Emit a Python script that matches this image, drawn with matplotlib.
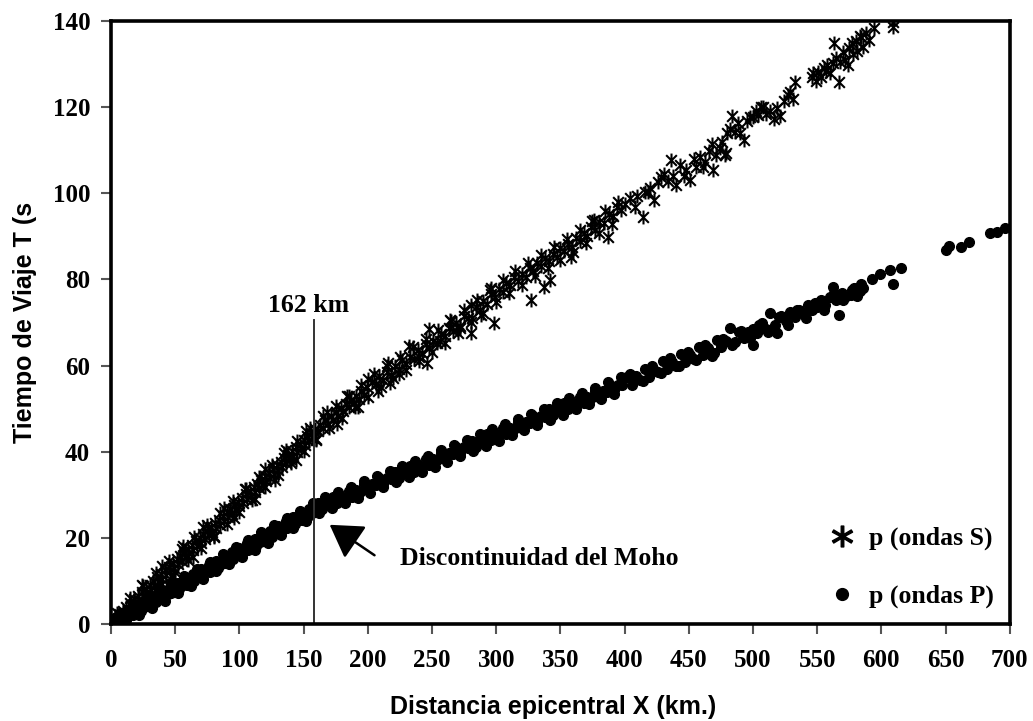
import matplotlib
matplotlib.use("Agg")
import matplotlib.pyplot as plt
from matplotlib.path import Path
from matplotlib.lines import Line2D

# ----------------------------
# Datos: ondas S (asteriscos)
# ----------------------------
s_dist = [3, 4, 6, 7, 9, 10, 12, 13, 15, 16, 18, 19, 21, 22, 24, 25, 27, 28, 30, 31,
          33, 34, 36, 37, 39, 40, 42, 43, 45, 46, 48, 49, 51, 52, 54, 55, 57, 58, 60, 61,
          63, 64, 66, 67, 69, 70, 72, 73, 75, 76, 78, 79, 81, 82, 84, 85, 87, 88, 90, 91,
          93, 94, 96, 97, 99, 100, 102, 103, 105, 106, 108, 109, 111, 112, 114, 115, 117, 118, 120, 121,
          123, 124, 126, 127, 129, 130, 132, 133, 135, 136, 138, 139, 141, 142, 144, 145, 147, 148, 150, 151,
          153, 154, 156, 157, 159, 161, 163, 165, 167, 169, 171, 173, 175, 177, 179, 181, 183, 185, 187, 189,
          191, 193, 195, 197, 199, 203, 206, 209, 212, 215, 218, 221, 224, 227, 230, 233, 236, 239, 242, 245,
          248, 251, 254, 257, 260, 263, 266, 269, 272, 275, 278, 281, 284, 287, 290, 293, 296, 299, 302, 305,
          308, 311, 314, 317, 320, 323, 326, 329, 332, 335, 338, 341, 344, 347, 350, 353, 356, 359, 362, 365,
          368, 371, 374, 377, 380, 384, 388, 391, 394, 397, 217, 246, 280, 298, 327, 337, 342, 358, 387, 376,
          5, 10, 15, 20, 25, 30, 35, 40, 45, 50, 55, 60, 65, 70, 75, 80, 85, 90, 95, 100,
          105, 110, 115, 120, 125, 130, 135, 140, 145, 150, 155, 160, 165, 170, 175, 180, 185, 190, 195, 200,
          205, 210, 215, 220, 225, 230, 235, 240, 245, 250, 255, 260, 265, 270, 275, 280, 285, 290, 295, 300,
          305, 310, 315, 320, 325, 330, 335, 340, 345, 350, 355, 360, 365, 370, 375, 380, 385, 390, 395,
          24, 32, 40, 48, 56, 64, 72, 80, 88, 96, 104, 112, 120, 128, 136, 144, 152, 160, 168, 176,
          184, 192, 200, 208, 216, 224, 232, 240, 248, 256, 264, 272, 280, 288, 296,
          400, 404, 408, 410, 414, 416, 418, 420, 423, 426, 428, 431, 434, 436, 438, 440, 443, 446, 448, 451,
          454, 456, 459, 461, 463, 466, 468, 469, 471, 474, 476, 478, 479, 480, 482, 484, 486, 488, 490, 493,
          495, 498, 500, 502, 504, 506, 508, 510, 513, 516, 519, 521, 524, 527, 529, 531, 533, 546, 547, 549,
          551, 553, 555, 557, 558, 560, 562, 563, 565, 567, 568, 570, 572, 574, 575, 577, 578, 580, 581, 583,
          584, 586, 588, 590, 594, 609, 609]
s_time = [1.4, 1.0, 2.3, 1.5, 3.1, 2.3, 4.0, 3.1, 4.8, 3.9, 5.7, 4.8, 6.5, 5.6, 7.4, 6.4, 8.2, 7.2, 9.1, 8.0,
          9.9, 8.9, 10.8, 9.7, 11.6, 10.5, 12.5, 11.4, 13.3, 12.2, 14.1, 13.0, 15.0, 13.9, 15.8, 14.7, 16.7, 15.5, 17.5, 16.4,
          18.3, 17.2, 19.2, 18.1, 20.0, 18.9, 20.9, 19.8, 21.7, 20.6, 22.6, 21.4, 23.4, 22.3, 24.2, 23.1, 25.1, 23.9, 25.9, 24.8,
          26.8, 25.6, 27.6, 26.5, 28.4, 27.3, 29.3, 28.1, 30.1, 29.0, 30.9, 29.8, 31.8, 30.7, 32.6, 31.5, 33.5, 32.3, 34.3, 33.2,
          35.1, 34.0, 36.0, 34.8, 36.8, 35.7, 37.7, 36.5, 38.5, 37.4, 39.3, 38.2, 40.2, 39.0, 41.0, 39.9, 41.9, 40.7, 42.7, 41.6,
          43.6, 42.4, 44.4, 43.2, 45.2, 44.7, 46.3, 45.6, 47.3, 46.5, 48.2, 47.4, 49.2, 48.4, 50.2, 49.4, 51.1, 50.4, 52.1, 51.3,
          53.0, 52.3, 54.0, 53.2, 55.0, 56.2, 55.7, 57.5, 56.7, 58.4, 57.8, 59.8, 59.3, 61.2, 60.4, 62.1, 61.5, 63.6, 63.0, 64.9,
          64.1, 65.8, 65.3, 67.3, 66.8, 68.8, 68.1, 69.9, 69.2, 71.5, 71.0, 71.0, 73.5, 72.9, 75.0, 74.4, 76.5, 75.9, 77.7, 77.0,
          79.2, 78.6, 80.6, 79.7, 81.3, 80.6, 82.6, 81.9, 83.8, 83.2, 85.0, 84.2, 86.0, 85.3, 87.3, 86.6, 88.3, 87.6, 89.5, 88.9,
          90.7, 90.0, 92.2, 91.5, 93.3, 93.0, 95.2, 94.7, 96.8, 96.0, 55.9, 60.6, 67.5, 69.8, 75.2, 78.2, 79.8, 85.2, 89.8, 93.7,
          2.6, 1.2, 6.0, 3.7, 8.9, 6.5, 11.8, 9.3, 14.6, 12.1, 17.4, 14.9, 20.2, 17.7, 23.0, 20.5, 25.8, 23.3, 28.6, 26.1,
          31.4, 28.9, 34.2, 31.7, 37.0, 34.5, 39.8, 37.3, 42.6, 40.1, 45.4, 43.0, 48.2, 45.5, 50.6, 47.9, 53.0, 50.3, 55.4, 52.7,
          58.0, 55.0, 59.9, 57.0, 62.1, 59.0, 64.2, 61.1, 66.1, 63.2, 68.3, 65.3, 70.4, 67.6, 72.8, 70.0, 75.1, 72.3, 77.5, 74.7,
          79.8, 76.9, 82.0, 78.8, 83.8, 80.8, 85.7, 82.6, 87.6, 84.5, 89.4, 86.4, 91.4, 88.4, 93.6, 90.7, 95.9, 92.8, 98.0,
          9.0, 6.7, 13.5, 11.1, 18.0, 15.6, 22.5, 20.1, 26.9, 24.6, 31.4, 29.1, 35.9, 33.5, 40.4, 38.0, 44.9, 42.7, 49.2, 46.5,
          53.0, 50.4, 56.9, 54.2, 60.7, 58.0, 64.6, 61.9, 68.4, 65.7, 70.5, 68.6, 74.1, 71.8, 78.1,
          97.5, 98.9, 96.7, 99.3, 94.4, 100.2, 100.3, 101.2, 98.4, 102.5, 103.8, 104.4, 102.8, 107.7, 104.1, 101.9, 106.5, 104.0, 105.3, 103.0,
          108.0, 106.2, 108.4, 106.0, 107.2, 109.8, 111.5, 105.3, 108.9, 110.4, 111.9, 108.8, 109.3, 113.9, 115.0, 118.0, 114.2, 116.3, 114.0, 112.3,
          116.8, 117.6, 117.6, 119.2, 118.1, 120.0, 119.9, 118.5, 119.0, 117.2, 119.8, 118.0, 121.3, 122.7, 123.4, 121.9, 125.8, 127.0, 127.8, 126.1,
          128.2, 127.0, 129.1, 128.3, 129.7, 128.0, 130.2, 134.8, 131.5, 125.8, 130.5, 132.8, 131.0, 129.7, 133.6, 134.8, 132.4, 135.3, 133.0, 136.5,
          136.2, 134.0, 137.1, 135.5, 138.3, 139.8, 138.5]

# ----------------------------
# Datos: ondas P (puntos)
# ----------------------------
p_dist = [4, 5, 7, 8, 10, 11, 13, 14, 16, 17, 19, 20, 22, 23, 25, 26, 28, 29, 31, 32,
          34, 35, 37, 38, 40, 41, 43, 44, 46, 47, 49, 50, 52, 53, 55, 56, 58, 59, 61, 62,
          64, 65, 67, 68, 70, 71, 73, 74, 76, 77, 79, 80, 82, 83, 85, 86, 88, 89, 91, 92,
          94, 95, 97, 98, 100, 101, 103, 104, 106, 107, 109, 110, 112, 113, 115, 116, 118, 119, 121, 122,
          124, 125, 127, 128, 130, 131, 133, 134, 136, 137, 139, 140, 142, 143, 145, 146, 148, 149, 151, 152,
          154, 155, 157, 158, 161, 164, 167, 170, 173, 176, 179, 182, 185, 188, 191, 194, 197, 200, 203, 206,
          209, 212, 215, 218, 221, 224, 227, 230, 233, 236, 239, 242, 245, 248, 251, 254, 257, 260, 263, 266,
          269, 272, 275, 278, 281, 284, 287, 290, 293, 296, 299, 302, 305, 308, 311, 314, 317, 320, 323, 326,
          329, 332, 335, 338, 341, 344, 347, 350, 353, 356, 359, 362, 365, 368, 371, 374, 377, 380, 383, 386,
          389, 392, 395, 398,
          7, 12, 17, 22, 27, 32, 37, 42, 47, 52, 57, 62, 67, 72, 77, 82, 87, 92, 97, 102,
          107, 112, 117, 122, 127, 132, 137, 142, 147, 152, 157, 162, 167, 172, 177, 182, 187, 192, 197, 202,
          207, 212, 217, 222, 227, 232, 237, 242, 247, 252, 257, 262, 267, 272, 277, 282, 287, 292, 297, 302,
          307, 312, 317, 322, 327, 332, 337, 342, 347, 352, 357, 362, 367, 372, 377, 382, 387, 392, 397,
          402, 406, 409, 412, 416, 419, 423, 426, 430, 433, 437, 440, 444, 447, 451, 454,
          458, 461, 465, 468, 472, 475, 479, 482, 486, 489, 493, 496, 500, 500, 503, 507, 510, 513, 517, 519,
          522, 526, 529, 533, 536, 540, 543, 546, 550, 553, 556, 560, 562, 565, 567, 569, 572, 576, 579, 583,
          404, 414, 421, 428, 435, 442, 449, 456, 463, 470, 477, 484, 491, 498, 505, 512, 520, 527, 534, 541,
          548, 555, 563, 570, 577, 581, 584,
          586, 593, 599, 607, 609, 615, 650, 653, 662, 668, 685, 690, 696]
p_time = [1.6, 0.8, 1.4, 0.9, 2.6, 1.1, 2.4, 2.0, 3.6, 2.1, 3.4, 3.0, 4.6, 3.1, 4.4, 4.0, 5.6, 4.1, 5.4, 5.0,
          6.6, 5.1, 6.4, 6.0, 7.6, 6.1, 7.4, 7.0, 8.6, 7.1, 8.4, 8.0, 9.6, 8.1, 9.4, 9.0, 10.6, 9.1, 10.5, 10.0,
          11.7, 10.1, 11.5, 11.0, 12.7, 11.1, 12.5, 12.0, 13.7, 12.1, 13.5, 13.0, 14.7, 13.1, 14.5, 14.0, 15.7, 14.2, 15.5, 15.1,
          16.7, 15.2, 16.5, 16.1, 17.7, 16.2, 17.5, 17.1, 18.7, 17.2, 18.5, 18.1, 19.7, 18.2, 19.5, 19.1, 20.7, 19.2, 20.5, 20.1,
          21.7, 20.2, 21.5, 21.1, 22.7, 21.2, 22.5, 22.1, 23.8, 22.2, 23.6, 23.1, 24.8, 23.2, 24.6, 24.1, 25.8, 24.2, 25.6, 25.1,
          26.8, 25.2, 26.6, 26.1, 28.0, 26.7, 28.0, 27.8, 29.5, 28.1, 29.5, 29.3, 30.9, 29.6, 31.0, 30.7, 32.4, 31.0, 32.4, 32.2,
          33.8, 32.5, 33.9, 33.6, 35.3, 33.9, 35.3, 35.1, 36.7, 35.4, 36.8, 36.5, 38.2, 36.8, 38.2, 38.0, 39.6, 38.3, 39.7, 39.4,
          41.1, 39.8, 41.1, 40.9, 42.5, 41.2, 42.6, 42.3, 44.0, 42.7, 44.0, 43.8, 45.4, 44.1, 45.5, 45.2, 46.9, 45.6, 46.9, 46.7,
          48.3, 47.0, 48.4, 48.1, 49.8, 48.5, 49.8, 49.6, 51.3, 49.9, 51.3, 51.0, 52.7, 51.4, 52.7, 52.5, 54.2, 52.8, 54.2, 53.9,
          55.6, 54.3, 55.6, 55.4,
          2.6, 0.9, 4.4, 2.1, 6.1, 3.8, 7.8, 5.4, 9.5, 7.1, 11.2, 8.8, 12.8, 10.5, 14.5, 12.2, 16.2, 13.9, 17.9, 15.5,
          19.6, 17.2, 21.3, 18.9, 22.9, 20.6, 24.6, 22.3, 26.3, 23.9, 28.0, 25.7, 29.4, 26.9, 30.6, 28.1, 31.9, 29.3, 33.1, 30.5,
          34.3, 31.7, 35.5, 32.9, 36.7, 34.1, 37.9, 35.3, 39.1, 36.5, 40.3, 37.7, 41.5, 38.9, 42.8, 40.2, 44.0, 41.4, 45.2, 42.6,
          46.4, 43.8, 47.6, 45.0, 48.8, 46.2, 50.0, 47.4, 51.2, 48.6, 52.4, 49.8, 53.7, 51.1, 54.9, 52.3, 56.1, 53.5, 57.3,
          57.3, 55.6, 57.5, 56.7, 59.3, 57.4, 59.0, 58.4, 61.0, 59.1, 60.8, 60.0, 62.6, 60.8, 62.4, 61.6,
          64.4, 62.4, 64.1, 62.3, 66.0, 64.2, 65.8, 68.7, 65.5, 67.8, 66.4, 67.9, 68.4, 64.7, 67.6, 69.8, 68.5, 72.2, 69.4, 67.5,
          71.4, 70.4, 72.4, 71.2, 73.0, 72.2, 74.0, 73.0, 73.5, 75.1, 74.1, 76.0, 78.2, 75.2, 71.7, 76.9, 76.0, 76.3, 78.1, 77.4,
          58.0, 56.4, 60.0, 58.2, 61.7, 59.9, 63.2, 61.4, 64.8, 62.9, 66.2, 64.7, 68.0, 66.3, 69.4, 67.8, 71.2, 69.5, 73.0, 71.0,
          74.5, 73.0, 76.8, 75.2, 77.6, 76.2, 79.0,
          78.0, 80.0, 81.2, 82.1, 78.9, 82.6, 86.8, 87.7, 87.5, 88.6, 90.7, 91.0, 91.9]

x_ticks = [0, 50, 100, 150, 200, 250, 300, 350, 400, 450, 500, 550, 600, 650, 700]
y_ticks = [0, 20, 40, 60, 80, 100, 120, 140]
moho_x = 158
moho_label = "162 km"

# marcador tipo asterisco (X con barra vertical), como el de Excel
star = Path([(-1, -1), (1, 1), (-1, 1), (1, -1), (0, -1.3), (0, 1.3)],
            [Path.MOVETO, Path.LINETO, Path.MOVETO, Path.LINETO, Path.MOVETO, Path.LINETO])

serif = ["Liberation Serif", "DejaVu Serif"]
sans = ["Liberation Sans", "DejaVu Sans"]

fig = plt.figure(figsize=(10.33, 7.21), dpi=100)
ax = fig.add_axes([0.1075, 0.1345, 0.870, 0.8365])

ax.plot(s_dist, s_time, linestyle="none", marker=star, markersize=10,
        markerfacecolor="none", markeredgecolor="black", markeredgewidth=1.5)
ax.plot(p_dist, p_time, linestyle="none", marker="o", markersize=7,
        markerfacecolor="black", markeredgecolor="black")

# linea de la discontinuidad
ax.plot([moho_x, moho_x], [0, 70.5], color="#333333", lw=1.4)
ax.text(154, 72.4, moho_label, ha="center", va="baseline", family=serif,
        fontweight="bold", fontsize=18.5)
ax.annotate("", xy=(168.5, 23.4), xytext=(207, 15.6),
            arrowprops=dict(arrowstyle="-|>,head_length=0.9,head_width=0.55",
                            color="black", lw=1.8, mutation_scale=22))
ax.text(225, 15.2, "Discontinuidad del Moho", ha="left", va="center", family=serif,
        fontweight="bold", fontsize=18.5)

# leyenda
handles = [Line2D([], [], linestyle="none", marker="$*$", markersize=15, color="black"),
           Line2D([], [], linestyle="none", marker="o", markersize=8.5, color="black")]
ax.legend(handles, ["p (ondas S)", "p (ondas P)"], loc="lower right",
          bbox_to_anchor=(1.008, -0.012), frameon=False, handletextpad=0.55,
          labelspacing=1.35, handlelength=1.0,
          prop=dict(family=serif, weight="bold", size=18.5))

ax.set_xlim(0, 700)
ax.set_ylim(0, 140)
ax.set_xticks(x_ticks)
ax.set_yticks(y_ticks)
for lab in ax.get_xticklabels() + ax.get_yticklabels():
    lab.set_family(serif)
    lab.set_fontweight("bold")
    lab.set_fontsize(18)
ax.tick_params(direction="out", length=7, width=1.5, color="#555555")
ax.tick_params(axis="x", pad=11)
ax.tick_params(axis="y", pad=8)
for sp in ax.spines.values():
    sp.set_linewidth(2.6)
    sp.set_color("black")

ax.set_xlabel("Distancia epicentral X (km.)", family=sans, fontweight="bold", fontsize=18)
ax.set_ylabel("Tiempo de Viaje T (s", family=sans, fontweight="bold", fontsize=18)
ax.xaxis.set_label_coords(0.492, -0.118)
ax.yaxis.set_label_coords(-0.082, 0.5)

fig.savefig("out.png", dpi=100)
